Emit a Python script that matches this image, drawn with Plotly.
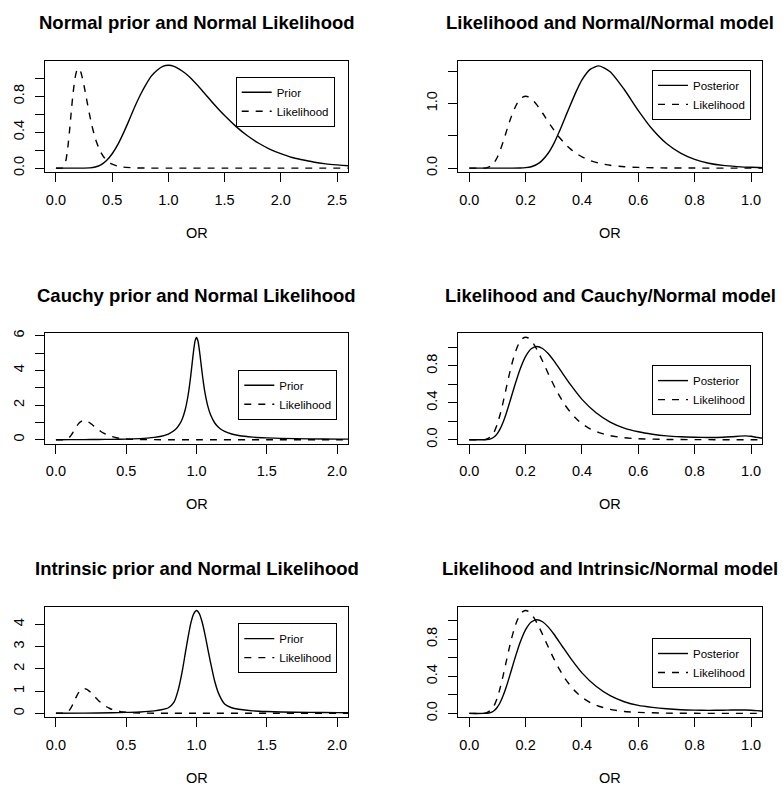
import plotly.graph_objects as go

W, H = 783, 789
FONT = "Liberation Sans, Arial, Helvetica, sans-serif"

# ---------------- data ----------------
# Likelihood (same curve in all six panels)
lik_x = [0, 0.04, 0.06, 0.08, 0.09, 0.10, 0.11, 0.12, 0.13, 0.14, 0.15, 0.16, 0.17, 0.18, 0.19,
         0.20, 0.21, 0.22, 0.23, 0.24, 0.25, 0.26, 0.27, 0.28, 0.29, 0.30, 0.32, 0.34, 0.36,
         0.38, 0.40, 0.43, 0.46, 0.50, 0.55, 0.60, 0.70, 0.80, 1.0, 1.5, 2.0, 2.7]
lik_y = [0, 0.0, 0.004, 0.043, 0.095, 0.173, 0.279, 0.405, 0.542, 0.68, 0.806, 0.915, 1.002, 1.063, 1.098,
         1.11, 1.10, 1.072, 1.03, 0.977, 0.916, 0.852, 0.785, 0.718, 0.653, 0.59, 0.474, 0.375, 0.294,
         0.227, 0.174, 0.116, 0.077, 0.044, 0.021, 0.011, 0.003, 0.001, 0, 0, 0, 0]

# Panel 1: Normal prior
normal_prior_x = [0, 0.1, 0.2, 0.25, 0.3, 0.35, 0.4, 0.45, 0.5, 0.55, 0.6, 0.65, 0.7, 0.75, 0.8, 0.85,
                  0.9, 0.95, 1.0, 1.05, 1.1, 1.15, 1.2, 1.3, 1.4, 1.5, 1.6, 1.7, 1.8, 1.9, 2.0, 2.1,
                  2.2, 2.3, 2.4, 2.5, 2.6, 2.7]
normal_prior_y = [0, 0, 0, 0.0004, 0.003, 0.013, 0.037, 0.085, 0.16, 0.262, 0.39, 0.532, 0.68, 0.814,
                  0.93, 1.027, 1.09, 1.133, 1.145, 1.134, 1.10, 1.056, 1.0, 0.865, 0.72, 0.585, 0.465,
                  0.363, 0.28, 0.213, 0.161, 0.118, 0.091, 0.065, 0.048, 0.036, 0.026, 0.0195]

# Panel 2: Normal/Normal posterior
nn_post_x = [0, 0.1, 0.15, 0.18, 0.2, 0.22, 0.25, 0.28, 0.3, 0.32, 0.35, 0.38, 0.4, 0.43, 0.46, 0.5,
             0.55, 0.6, 0.65, 0.7, 0.75, 0.8, 0.85, 0.9, 0.95, 1.0, 1.1]
nn_post_y = [0, 0, 0.0001, 0.0015, 0.007, 0.022, 0.086, 0.23, 0.379, 0.57, 0.885, 1.19, 1.364, 1.53,
             1.58, 1.49, 1.215, 0.89, 0.6, 0.38, 0.232, 0.135, 0.076, 0.042, 0.024, 0.0126, 0.0035]

# Panel 3: Cauchy prior
cauchy_prior_x = [0, 0.1, 0.2, 0.3, 0.4, 0.5, 0.6, 0.65, 0.7, 0.75, 0.8, 0.85, 0.88, 0.9, 0.92, 0.94,
                  0.95, 0.96, 0.97, 0.98, 0.99, 1.0, 1.01, 1.02, 1.03, 1.04, 1.05, 1.06, 1.08, 1.1,
                  1.13, 1.16, 1.2, 1.25, 1.3, 1.4, 1.5, 1.6, 1.8, 2.0, 2.2]
cauchy_prior_y = [0, 0.003, 0.007, 0.012, 0.021, 0.036, 0.065, 0.091, 0.132, 0.2, 0.327, 0.586, 0.894,
                  1.227, 1.743, 2.55, 3.1, 3.755, 4.476, 5.175, 5.70, 5.9, 5.71, 5.2, 4.54, 3.864, 3.25,
                  2.725, 1.947, 1.434, 0.964, 0.69, 0.476, 0.327, 0.24, 0.148, 0.103, 0.077, 0.05,
                  0.036, 0.028]

# Panel 4: Cauchy/Normal posterior
cn_post_x = [0, 0.05, 0.07, 0.08, 0.09, 0.1, 0.11, 0.12, 0.13, 0.14, 0.16, 0.18, 0.2, 0.22, 0.24,
             0.26, 0.28, 0.3, 0.33, 0.36, 0.4, 0.45, 0.5, 0.55, 0.6, 0.65, 0.7, 0.75, 0.8, 0.85,
             0.9, 0.93, 0.96, 0.98, 1.0, 1.02, 1.05, 1.1]
cn_post_y = [0, 0.0002, 0.005, 0.014, 0.034, 0.069, 0.12, 0.19, 0.274, 0.37, 0.574, 0.761, 0.903,
             0.985, 1.01, 0.988, 0.933, 0.856, 0.724, 0.593, 0.437, 0.292, 0.191, 0.126, 0.086,
             0.06, 0.042, 0.032, 0.027, 0.025, 0.027, 0.032, 0.039, 0.042, 0.037, 0.026, 0.011, 0.003]

# Panel 5: Intrinsic prior
intr_prior_x = [0, 0.2, 0.4, 0.5, 0.6, 0.7, 0.75, 0.8, 0.84, 0.87, 0.9, 0.92, 0.94, 0.96, 0.98, 1.0,
                1.02, 1.04, 1.06, 1.08, 1.1, 1.13, 1.16, 1.2, 1.25, 1.3, 1.4, 1.5, 1.6, 1.8, 2.0, 2.2]
intr_prior_y = [0, 0.01, 0.025, 0.04, 0.06, 0.11, 0.16, 0.25, 0.5, 1.05, 1.94, 2.69, 3.42, 4.06, 4.47,
                4.62, 4.48, 4.1, 3.55, 2.91, 2.28, 1.43, 0.85, 0.42, 0.25, 0.18, 0.11, 0.08, 0.06,
                0.04, 0.03, 0.025]

# Panel 6: Intrinsic/Normal posterior
in_post_x = cn_post_x
in_post_y = [0, 0.0002, 0.005, 0.014, 0.034, 0.069, 0.12, 0.19, 0.274, 0.37, 0.574, 0.761, 0.903,
             0.985, 1.01, 0.988, 0.933, 0.856, 0.724, 0.593, 0.437, 0.292, 0.191, 0.126, 0.086,
             0.065, 0.05, 0.04, 0.035, 0.033, 0.034, 0.036, 0.037, 0.036, 0.034, 0.03, 0.022, 0.01]

titles = ["Normal prior and Normal Likelihood", "Likelihood and Normal/Normal model",
          "Cauchy prior and Normal Likelihood", "Likelihood and Cauchy/Normal model",
          "Intrinsic prior and Normal Likelihood", "Likelihood and Intrinsic/Normal model"]
solid_names = ["Prior", "Posterior", "Prior", "Posterior", "Prior", "Posterior"]
solid_x = [normal_prior_x, nn_post_x, cauchy_prior_x, cn_post_x, intr_prior_x, in_post_x]
solid_y = [normal_prior_y, nn_post_y, cauchy_prior_y, cn_post_y, intr_prior_y, in_post_y]

x_ranges = [[-0.1, 2.6], [-0.04, 1.04], [-0.08, 2.08], [-0.04, 1.04], [-0.08, 2.08], [-0.04, 1.04]]
x_ticks = [[0, 0.5, 1.0, 1.5, 2.0, 2.5], [0, 0.2, 0.4, 0.6, 0.8, 1.0],
           [0, 0.5, 1.0, 1.5, 2.0], [0, 0.2, 0.4, 0.6, 0.8, 1.0],
           [0, 0.5, 1.0, 1.5, 2.0], [0, 0.2, 0.4, 0.6, 0.8, 1.0]]
x_labels = [["0.0", "0.5", "1.0", "1.5", "2.0", "2.5"], ["0.0", "0.2", "0.4", "0.6", "0.8", "1.0"],
            ["0.0", "0.5", "1.0", "1.5", "2.0"], ["0.0", "0.2", "0.4", "0.6", "0.8", "1.0"],
            ["0.0", "0.5", "1.0", "1.5", "2.0"], ["0.0", "0.2", "0.4", "0.6", "0.8", "1.0"]]
y_ranges = [[-0.046, 1.196], [-0.064, 1.66], [-0.236, 6.136], [-0.044, 1.152],
            [-0.184, 4.784], [-0.043, 1.149]]
y_ticks = [[0, 0.2, 0.4, 0.6, 0.8, 1.0], [0, 0.5, 1.0, 1.5], [0, 1, 2, 3, 4, 5, 6],
           [0, 0.2, 0.4, 0.6, 0.8, 1.0], [0, 1, 2, 3, 4], [0, 0.2, 0.4, 0.6, 0.8, 1.0]]
y_labels = [["0.0", "", "0.4", "", "0.8", ""], ["0.0", "", "1.0", ""], ["0", "", "2", "", "4", "", "6"],
            ["0.0", "", "0.4", "", "0.8", ""], ["0", "1", "2", "3", "4"],
            ["0.0", "", "0.4", "", "0.8", ""]]

# ---------------- layout geometry (pixels) ----------------
col_px = [(44.7, 348.3), (458.0, 762.3)]
row_px = [(57.3, 170.0), (332.7, 444.3), (609.0, 720.7)]
legend_px = [(235.7, 73.5), (652.0, 66.5), (238.3, 369.5), (652.0, 364.8), (238.3, 625.5), (652.0, 640.5)]

fig = go.Figure()
annotations = []
for i in range(6):
    r, c = divmod(i, 2)
    sfx = "" if i == 0 else str(i + 1)
    xa, ya = "x" + sfx, "y" + sfx
    leg = "legend" + sfx
    fig.add_trace(go.Scatter(x=solid_x[i], y=solid_y[i], mode="lines", name=solid_names[i],
                             line=dict(color="black", width=1.4, shape="spline", smoothing=0.6),
                             xaxis=xa, yaxis=ya, legend=leg))
    fig.add_trace(go.Scatter(x=lik_x, y=lik_y, mode="lines", name="Likelihood",
                             line=dict(color="black", width=1.4, dash="7px,7px",
                                       shape="spline", smoothing=0.6),
                             xaxis=xa, yaxis=ya, legend=leg))
    x0, x1 = col_px[c]
    y0, y1 = row_px[r]
    common = dict(showline=True, linecolor="black", linewidth=1.2, mirror=True, ticks="outside",
                  ticklen=9, tickwidth=1.2, tickcolor="black", showgrid=False, zeroline=False,
                  tickfont=dict(family=FONT, size=14.5, color="black"), fixedrange=True)
    fig.layout["xaxis" + sfx] = dict(domain=[x0 / W, x1 / W], range=x_ranges[i], anchor=ya,
                                     tickmode="array", tickvals=x_ticks[i], ticktext=x_labels[i],
                                     ticklabelstandoff=5, **common)
    fig.layout["yaxis" + sfx] = dict(domain=[1 - y1 / H, 1 - y0 / H], range=y_ranges[i], anchor=xa,
                                     tickmode="array", tickvals=y_ticks[i], ticktext=y_labels[i],
                                     tickangle=-90, ticklabelstandoff=5, **common)
    lx, ly = legend_px[i]
    fig.layout[leg] = dict(x=lx / W, y=1 - ly / H, xanchor="left", yanchor="top",
                           bgcolor="white", bordercolor="black", borderwidth=1,
                           font=dict(family=FONT, size=11.5, color="black"),
                           itemwidth=30, tracegroupgap=0)
    cx = (x0 + x1) / 2
    annotations.append(dict(text="<b>" + titles[i] + "</b>", x=cx / W, y=1 - (y0 - 38.6) / H,
                            xref="paper", yref="paper", showarrow=False, xanchor="center",
                            yanchor="middle", font=dict(family=FONT, size=18.5, color="black")))
    annotations.append(dict(text="OR", x=cx / W, y=1 - (y1 + 61.3) / H,
                            xref="paper", yref="paper", showarrow=False, xanchor="center",
                            yanchor="middle", font=dict(family=FONT, size=14.5, color="black")))

fig.update_layout(width=W, height=H, margin=dict(l=0, r=0, t=0, b=0),
                  paper_bgcolor="white", plot_bgcolor="white", showlegend=True,
                  annotations=annotations)
fig.write_html("out.html", config={"displayModeBar": False},
               post_script="document.body.style.margin='0';document.body.style.overflow='hidden';")
